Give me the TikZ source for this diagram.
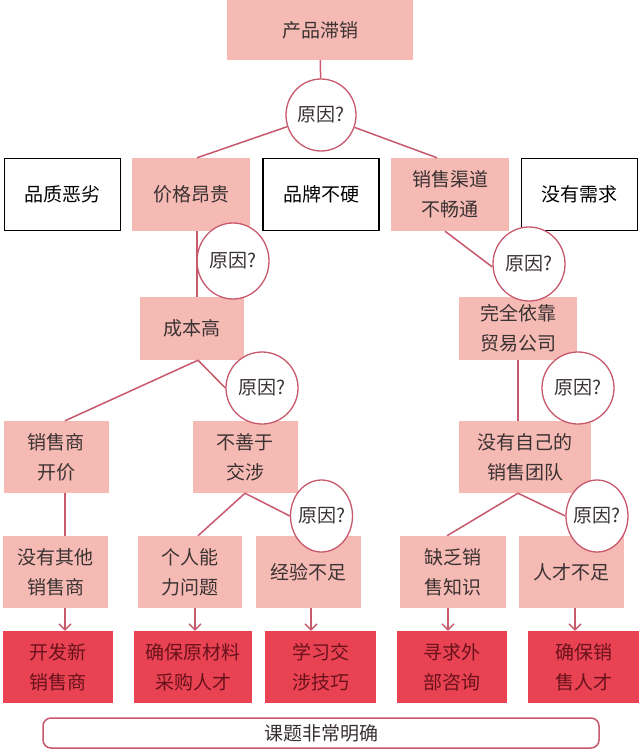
\documentclass[tikz,border=0pt]{standalone}
\usepackage{fontspec}
\setmainfont{Noto Sans CJK SC}
\usetikzlibrary{shapes.geometric,arrows.meta,calc}
\definecolor{pinkbox}{RGB}{246,186,180}
\definecolor{redbox}{RGB}{233,66,82}
\definecolor{rose}{RGB}{200,88,108}
\definecolor{txt}{RGB}{58,50,50}
\definecolor{redtxt}{RGB}{105,18,28}
\begin{document}
\begin{tikzpicture}[x=1pt,y=-1pt,
  every node/.style={font=\fontsize{19}{30}\selectfont, align=center, inner sep=0pt, text=txt},
  pbox/.style={fill=pinkbox},
  wbox/.style={draw=black, line width=1.5pt, fill=white, text=black},
  rbox/.style={fill=redbox, text=redtxt},
  why/.style={ellipse, draw=rose, line width=1.3pt, fill=white, inner xsep=-3pt, inner ysep=0pt, minimum width=70pt, minimum height=74pt},
  conn/.style={draw=rose, line width=1.5pt},
  arr/.style={draw=rose, line width=1.5pt, -{Straight Barb[length=6pt,width=12pt,line width=1.4pt]}},
  sz/.style n args={2}{minimum width=#1pt, minimum height=#2pt}
]
\useasboundingbox (0,0) rectangle (640,754);

% level 0
\node[pbox, sz={186}{60}] (top) at (320,30) {产品滞销};
% level 1
\node[wbox, sz={116}{72}] (b1) at (62.5,194.5) {品质恶劣};
\node[pbox, sz={118}{73}] (b2) at (191,194.5) {价格昂贵};
\node[wbox, sz={116}{72}] (b3) at (321,194.5) {品牌不硬};
\node[pbox, sz={118}{73}] (b4) at (450,194.5) {销售渠道\\不畅通};
\node[wbox, sz={116}{72}] (b5) at (579.5,194.5) {没有需求};
% level 2
\node[pbox, sz={104}{63}] (r2a) at (192,328.5) {成本高};
\node[pbox, sz={118}{63}] (r2b) at (518,328.5) {完全依靠\\贸易公司};
% level 3
\node[pbox, sz={105}{72}] (r3a) at (56,457) {销售商\\开价};
\node[pbox, sz={105}{72}] (r3b) at (245,457) {不善于\\交涉};
\node[pbox, sz={132}{72}] (r3c) at (525,457) {没有自己的\\销售团队};
% level 4
\node[pbox, sz={105}{72}] (r4a) at (55.5,572) {没有其他\\销售商};
\node[pbox, sz={104}{72}] (r4b) at (190,572) {个人能\\力问题};
\node[pbox, sz={105}{72}] (r4c) at (308.5,572) {经验不足};
\node[pbox, sz={106}{72}] (r4d) at (453,572) {缺乏销\\售知识};
\node[pbox, sz={105}{72}] (r4e) at (571.5,572) {人才不足};
% level 5
\node[rbox, sz={110}{72}] (r5a) at (58,667) {开发新\\销售商};
\node[rbox, sz={118}{72}] (r5b) at (193,667) {确保原材料\\采购人才};
\node[rbox, sz={111}{72}] (r5c) at (320.5,667) {学习交\\涉技巧};
\node[rbox, sz={110}{72}] (r5d) at (452,667) {寻求外\\部咨询};
\node[rbox, sz={111}{72}] (r5e) at (583.5,667) {确保销\\售人才};
% bottom
\node[draw=rose, line width=1.5pt, rounded corners=8pt, fill=white, sz={556}{30}] (goal) at (321,733) {课题非常明确};

% circles
\node[why, minimum width=70pt, minimum height=72pt] (c1) at (321,115) {原因?};
\node[why, minimum width=72pt, minimum height=76pt] (c2) at (233,261) {原因?};
\node[why, minimum width=72pt, minimum height=74pt] (c3) at (529,264) {原因?};
\node[why, minimum width=72pt, minimum height=72pt] (c4) at (262,388) {原因?};
\node[why, minimum width=72pt, minimum height=72pt] (c5) at (578,388) {原因?};
\node[why, minimum width=62pt, minimum height=72pt] (c6) at (321.5,516) {原因?};
\node[why, minimum width=62pt, minimum height=72pt] (c7) at (597,516) {原因?};

% connectors
\draw[conn] (top) -- (c1);
\draw[conn] (c1) -- ($(b2.north)+(6,0)$);
\draw[conn] (c1) -- ($(b4.north)+(-13,0)$);
\draw[conn] ($(b2.south)+(6,0)$) -- ($(r2a.north)+(5,0)$);
\draw[conn] ($(b4.south)+(-5,0)$) -- ($(c3.west)+(0,3)$);
\draw[conn] (r2b.south) -- (r2b.south |- r3c.north);
\coordinate (p1) at ($(r2a.south)+(6,0)$);
\draw[conn] (p1) -- ($(r3a.north)+(9,0)$);
\draw[conn] (p1) -- (c4.west);
\draw[conn] ($(r3a.south)+(9,0)$) -- ($(r4a.north)+(9.5,0)$);
\draw[conn] (r3b.south) -- ($(r4b.north)+(8,0)$);
\draw[conn] (r3b.south) -- (c6.west);
\coordinate (p2) at ($(r3c.south)+(-7,0)$);
\draw[conn] (p2) -- ($(r4d.north)+(-6,0)$);
\draw[conn] (p2) -- (c7.west);

\coordinate (a1) at ($(r4a.south)+(9.5,0)$);
\coordinate (a2) at ($(r4b.south)+(5,0)$);
\coordinate (a3) at ($(r4c.south)+(2.5,0)$);
\coordinate (a4) at ($(r4d.south)+(-5,0)$);
\coordinate (a5) at ($(r4e.south)+(3.5,0)$);
\draw[arr] (a1) -- (a1 |- r5a.north);
\draw[arr] (a2) -- (a2 |- r5b.north);
\draw[arr] (a3) -- (a3 |- r5c.north);
\draw[arr] (a4) -- (a4 |- r5d.north);
\draw[arr] (a5) -- (a5 |- r5e.north);
\end{tikzpicture}
\end{document}
